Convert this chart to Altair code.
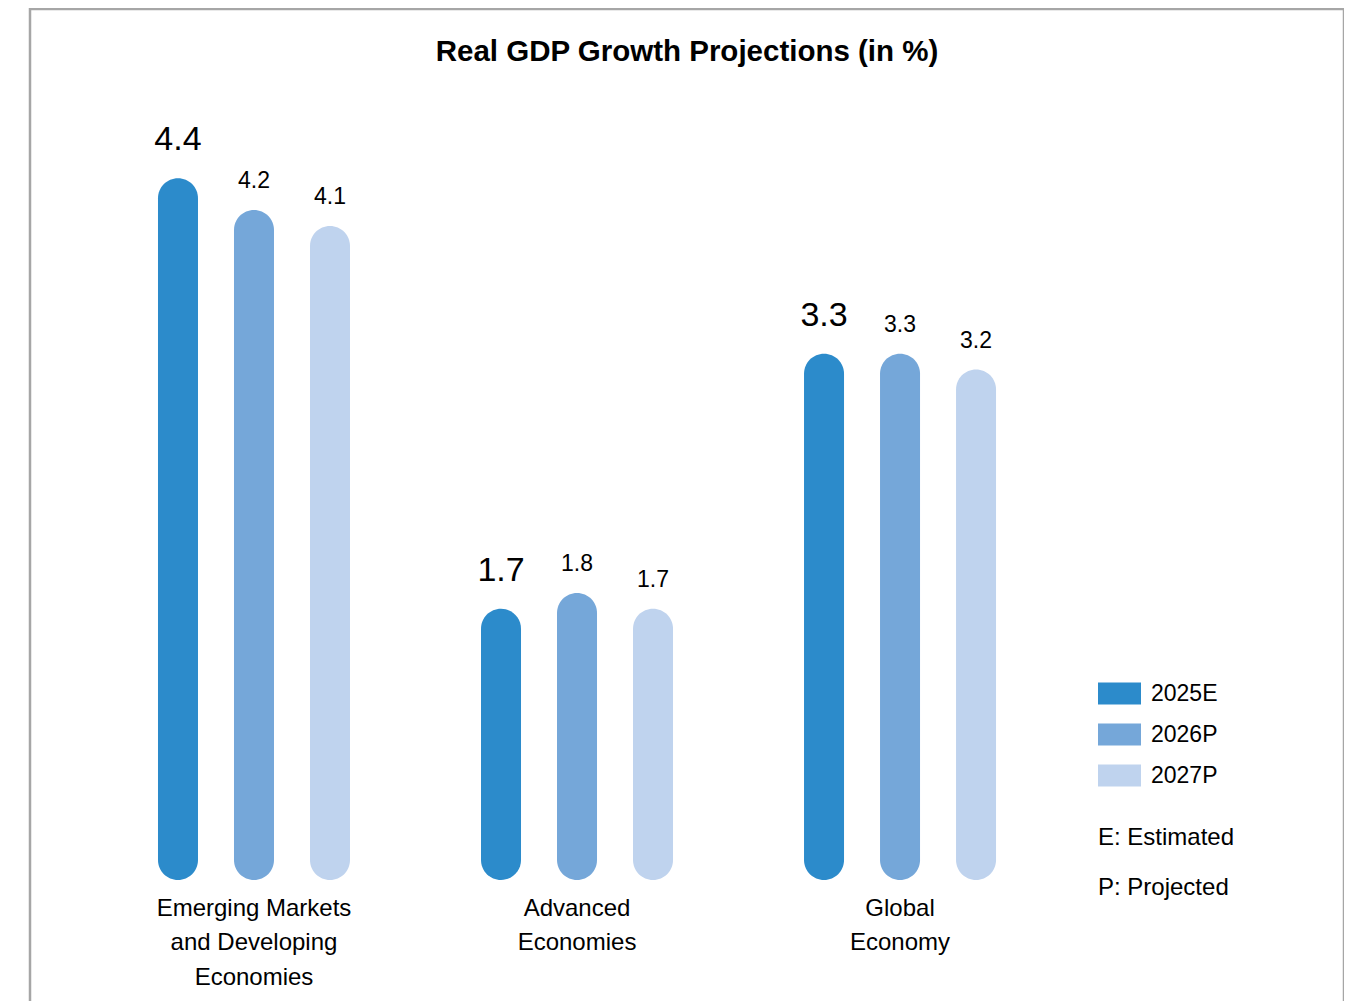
import altair as alt
import pandas as pd

categories = ["Emerging Markets and Developing Economies", "Advanced Economies", "Global Economy"]
category_labels = ["Emerging Markets\nand Developing\nEconomies", "Advanced\nEconomies", "Global\nEconomy"]
series = ["2025E", "2026P", "2027P"]
values_2025E = [4.4, 1.7, 3.3]
values_2026P = [4.2, 1.8, 3.3]
values_2027P = [4.1, 1.7, 3.2]
colors = ["#2C8BCB", "#75A7D9", "#BFD3EE"]
notes = ["E: Estimated", "P: Projected"]

rows = []
for s, vals in zip(series, [values_2025E, values_2026P, values_2027P]):
    for c, v in zip(categories, vals):
        rows.append({"category": c, "series": s, "value": v})
df = pd.DataFrame(rows)
cat_df = pd.DataFrame({"category": categories, "label": category_labels})

FONT = "Liberation Sans"

x_scale = alt.Scale(domain=categories, paddingInner=95 / 323, paddingOuter=0.681, align=0.25)
xo_scale = alt.Scale(domain=series, paddingInner=36 / 76, paddingOuter=0.23684)
y_scale = alt.Scale(domain=[-0.8088, 5.4608], zero=False, nice=False)

color = alt.Color(
    "series:N",
    scale=alt.Scale(domain=series, range=colors),
    legend=alt.Legend(
        orient="none",
        legendX=1068,
        legendY=663,
        padding=0,
        symbolType="M-1,-0.5116H1V0.5116H-1Z",
        symbolSize=1849,
        symbolStrokeWidth=0,
        symbolOpacity=1,
        labelFont=FONT,
        labelFontSize=23,
        labelColor="#000000",
        labelOffset=10,
        rowPadding=7,
        title=notes,
        titleOrient="bottom",
        titleAnchor="start",
        titleAlign="left",
        titleFont=FONT,
        titleFontSize=24,
        titleFontWeight="normal",
        titleColor="#000000",
        titleLineHeight=50,
        titlePadding=38,
    ),
)

base = alt.Chart(df).encode(
    x=alt.X("category:N", scale=x_scale, axis=None, sort=categories),
    xOffset=alt.XOffset("series:N", scale=xo_scale, sort=series),
    y=alt.Y("value:Q", scale=y_scale, axis=None),
)

bars = base.mark_bar(cornerRadius=20).encode(
    y2=alt.datum(0),
    color=color,
)

big_labels = base.transform_filter(alt.datum.series == "2025E").mark_text(
    font=FONT, fontSize=34, baseline="alphabetic", dy=-28, color="#000000"
).encode(text=alt.Text("value:Q", format=".1f"))

small_labels = base.transform_filter(alt.datum.series != "2025E").mark_text(
    font=FONT, fontSize=23, baseline="alphabetic", dy=-22, color="#000000"
).encode(text=alt.Text("value:Q", format=".1f"))

cat_text = alt.Chart(cat_df).mark_text(
    font=FONT, fontSize=24, baseline="alphabetic", dy=36, lineBreak="\n", lineHeight=34.5, color="#000000"
).encode(
    x=alt.X("category:N", scale=x_scale, axis=None, sort=categories),
    y=alt.datum(0),
    text="label:N",
)

chart = alt.layer(bars, big_labels, small_labels, cat_text).properties(
    width=1314,
    height=1000,
    autosize=alt.AutoSizeParams(type="none"),
    padding={"left": 22, "top": 1, "right": 0, "bottom": 0},
    title=alt.TitleParams(
        "Real GDP Growth Projections (in %)",
        font=FONT,
        fontSize=29.5,
        fontWeight="bold",
        color="#000000",
        anchor="middle",
        baseline="alphabetic",
        offset=-81,
    ),
).configure(background="white").configure_view(stroke="#A6A6A6", strokeWidth=2.5)

chart.save("out.html", embed_options={"renderer": "svg", "actions": False})
